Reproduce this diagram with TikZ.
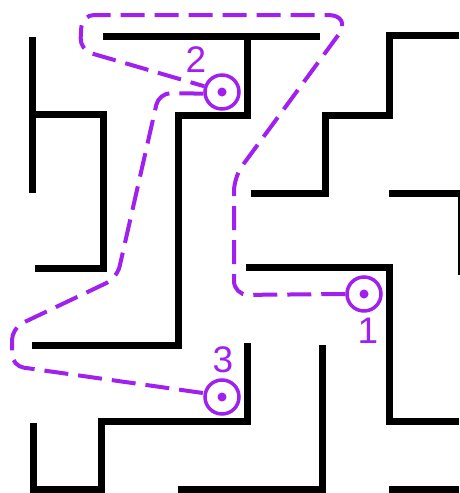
\documentclass[tikz,border=0pt]{standalone}
\usepackage{fontspec}
\setmainfont{Liberation Sans}
\definecolor{mazepurple}{RGB}{160,32,240}
\begin{document}
\begin{tikzpicture}[x=1pt,y=-1pt,
  wall/.style={line width=7pt, black},
  route/.style={line width=4pt, mazepurple, dash pattern=on 24pt off 10pt},
  spot/.style={circle, draw=mazepurple, line width=3.5pt, minimum size=34pt, inner sep=0pt},
  num/.style={text=mazepurple, font=\fontsize{37}{37}\selectfont, inner sep=0pt}]
\useasboundingbox (0,0) rectangle (459,493);
% walls
\draw[wall] (32,37) -- (32,193);
\draw[wall] (32,114) -- (103,114) -- (103,268) -- (35,268);
\draw[wall] (103,36) -- (320,36);
\draw[wall] (247,36) -- (247,115) -- (178,115) -- (178,345) -- (32,345);
\draw[wall] (459,35) -- (389,35) -- (389,115) -- (325,115) -- (325,193) -- (251,193);
\draw[wall] (389,193) -- (461,193) -- (461,275);
\draw[wall] (246,267) -- (389,267) -- (389,421) -- (459,421);
\draw[wall] (322,345) -- (322,489) -- (178,489);
\draw[wall] (389,489) -- (459,489);
\draw[wall] (247,343) -- (247,421) -- (101,421) -- (101,489) -- (33,489) -- (33,423);
% spots
\node[spot] (c1) at (364,294) {};
\node[spot] (c2) at (222,92) {};
\node[spot] (c3) at (222,397) {};
\fill[mazepurple] (c1.center) circle (4.5);
\fill[mazepurple] (c2.center) circle (4.5);
\fill[mazepurple] (c3.center) circle (4.5);
% labels
\node[num] (l1) at (368,331) {1};
\node[num] (l2) at (196,60) {2};
\node[num] (l3) at (223,360) {3};
% routes
\draw[route] (c1.west) [rounded corners=14pt] -- (234,295) -- (234,177) [rounded corners=25pt] -- (353,15) [rounded corners=12pt] -- (82,15) -- (80,50) -- (c2.162);
\draw[route] (c2.185) [rounded corners=12pt] -- (159,93) -- (117,278) -- (12,328) -- (12,366) -- (c3.168);
\end{tikzpicture}
\end{document}
